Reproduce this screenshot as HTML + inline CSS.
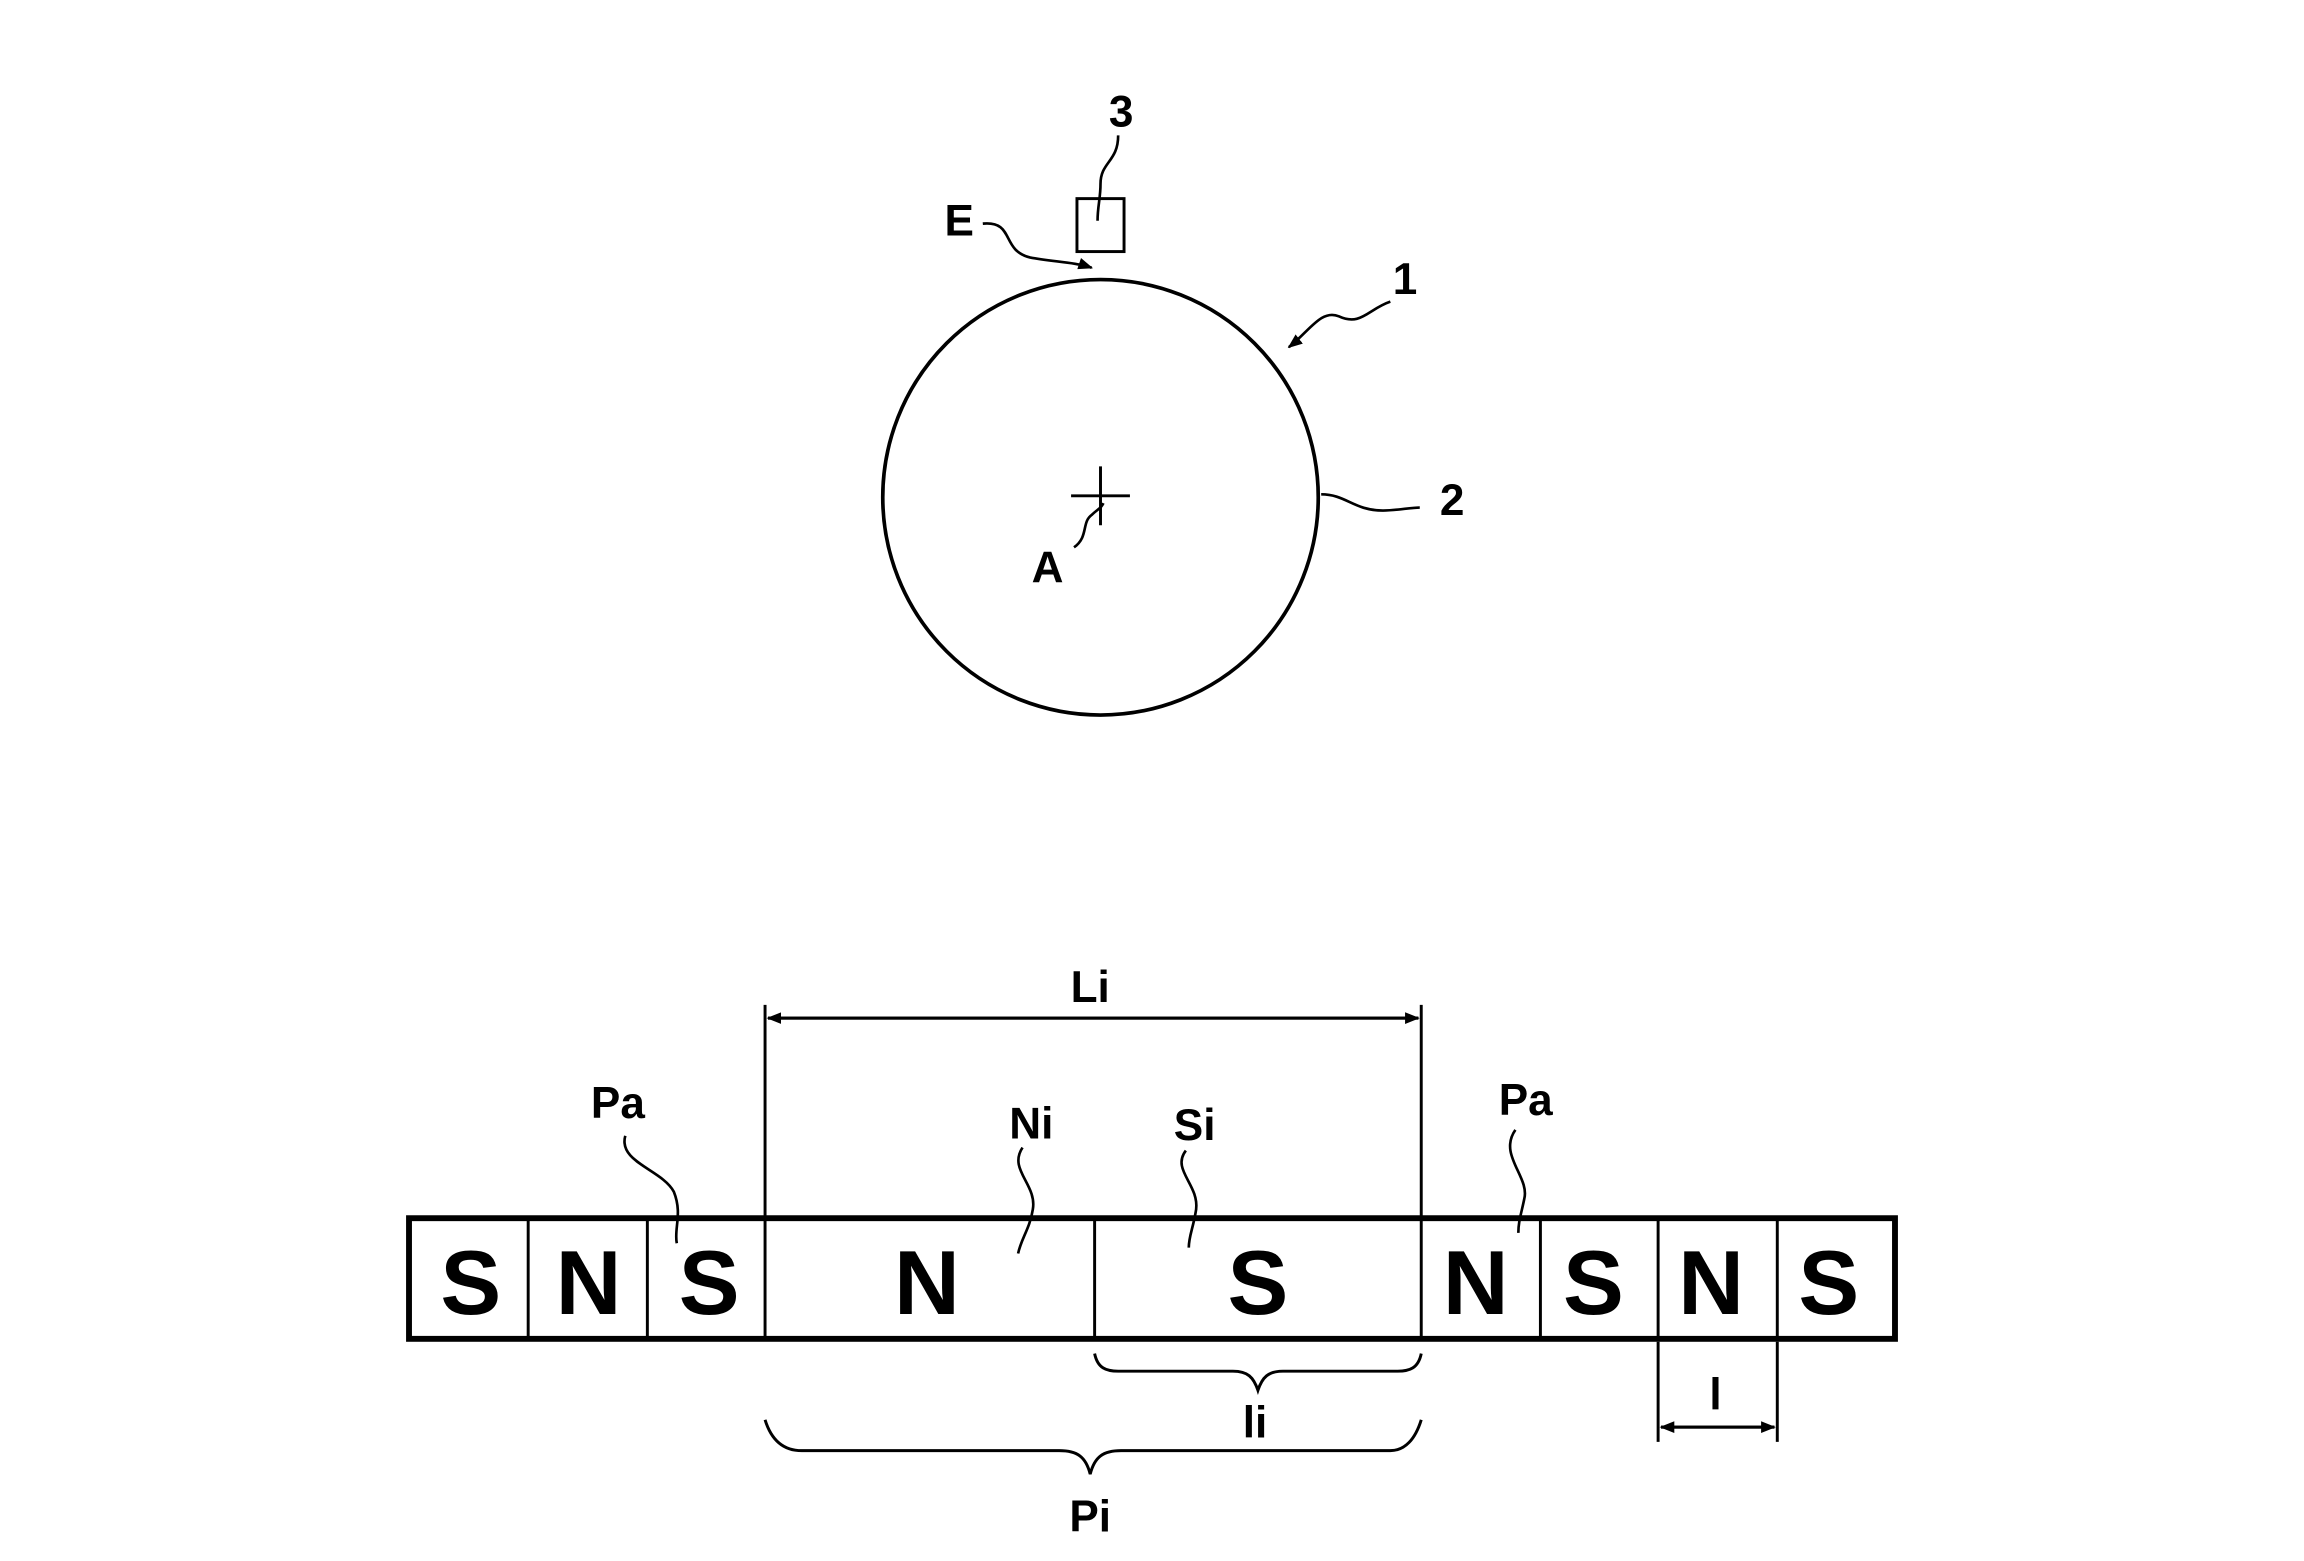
<!DOCTYPE html>
<html><head><meta charset="utf-8"><style>
html,body{margin:0;padding:0;background:#fff;}
svg{display:block;}
text{font-family:"Liberation Sans",sans-serif;font-weight:bold;fill:#000;text-anchor:middle;}
</style></head><body>
<svg width="2304" height="1561" viewBox="0 0 1566 1061" preserveAspectRatio="none" xmlns="http://www.w3.org/2000/svg">
<defs><marker id="ar" markerWidth="10" markerHeight="8" refX="9" refY="4" orient="auto" markerUnits="userSpaceOnUse"><path d="M0,0 L10,4 L0,8 Z" fill="#000"/></marker></defs>
<g fill="none" stroke="#000" stroke-width="2.5">
<circle cx="748" cy="338" r="148"/>
<path d="M728,337 H768 M748,317 V357" stroke-width="2"/>
<rect x="732" y="135" width="32" height="36" stroke-width="2"/>
<path d="M760,92 C760,110 748,110 748,125 C748,135 746,140 746,150" stroke-width="1.8"/>
<path d="M668,152 C690,150 680,170 700,175 C715,178 730,178 742,182" stroke-width="1.8" marker-end="url(#ar)"/>
<path d="M945,205 C930,210 925,222 910,215 C898,210 890,225 876,236" stroke-width="1.8" marker-end="url(#ar)"/>
<path d="M898,336 C915,336 920,347 940,347 C950,347 958,345 965,345" stroke-width="1.8"/>
<path d="M730,372 C740,365 735,355 742,350 C746,346 748,346 750,342" stroke-width="1.8"/>
<rect x="278" y="828" width="1010" height="82" stroke-width="4"/>
<path d="M359,828V910 M440,828V910 M520,828V910 M744,828V910 M966,828V910 M1047,828V910 M1127,828V910 M1208,828V910" stroke-width="2"/>
<path d="M520,683V828 M966,683V828" stroke-width="2"/>
<path d="M522,692H964" stroke-width="2" marker-end="url(#ar)"/>
<path d="M964,692H522" stroke-width="2" marker-end="url(#ar)"/>
<path d="M425,772 C420,790 450,795 458,810 C464,825 458,835 460,845" stroke-width="1.8"/>
<path d="M695,780 C685,795 705,805 702,822 C700,835 694,842 692,852" stroke-width="1.8"/>
<path d="M806,782 C796,795 815,805 813,822 C811,835 808,840 808,848" stroke-width="1.8"/>
<path d="M1030,768 C1018,785 1040,800 1036,815 C1034,825 1032,830 1032,838" stroke-width="1.8"/>
<path d="M744,920 C746,930 752,932 760,932 H838 C848,932 852,936 855,945 C858,936 862,932 872,932 H950 C958,932 964,930 966,920" stroke-width="2"/>
<path d="M520,965 C524,978 532,986 545,986 H720 C732,986 738,990 741,1002 C744,990 750,986 762,986 H945 C955,986 962,978 966,965" stroke-width="2"/>
<path d="M1127,912V980 M1208,912V980" stroke-width="2"/>
<path d="M1129,970H1206" stroke-width="2" marker-end="url(#ar)"/>
<path d="M1206,970H1129" stroke-width="2" marker-end="url(#ar)"/>
</g>
<g font-size="30">
<text x="762" y="86">3</text>
<text x="652" y="160">E</text>
<text x="955" y="200">1</text>
<text x="987" y="350">2</text>
<text x="712" y="396">A</text>
<text x="741" y="681">Li</text>
<text x="420" y="760">Pa</text>
<text x="701" y="774">Ni</text>
<text x="812" y="775">Si</text>
<text x="1037" y="758">Pa</text>
<text x="853" y="977">li</text>
<text x="741" y="1041">Pi</text>
<text x="1166" y="958">l</text>
</g>
<g font-size="62">
<text x="320" y="893">S</text>
<text x="400" y="893">N</text>
<text x="482" y="893">S</text>
<text x="630" y="893">N</text>
<text x="855" y="893">S</text>
<text x="1003" y="893">N</text>
<text x="1083" y="893">S</text>
<text x="1163" y="893">N</text>
<text x="1243" y="893">S</text>
</g>
</svg>
</body></html>
